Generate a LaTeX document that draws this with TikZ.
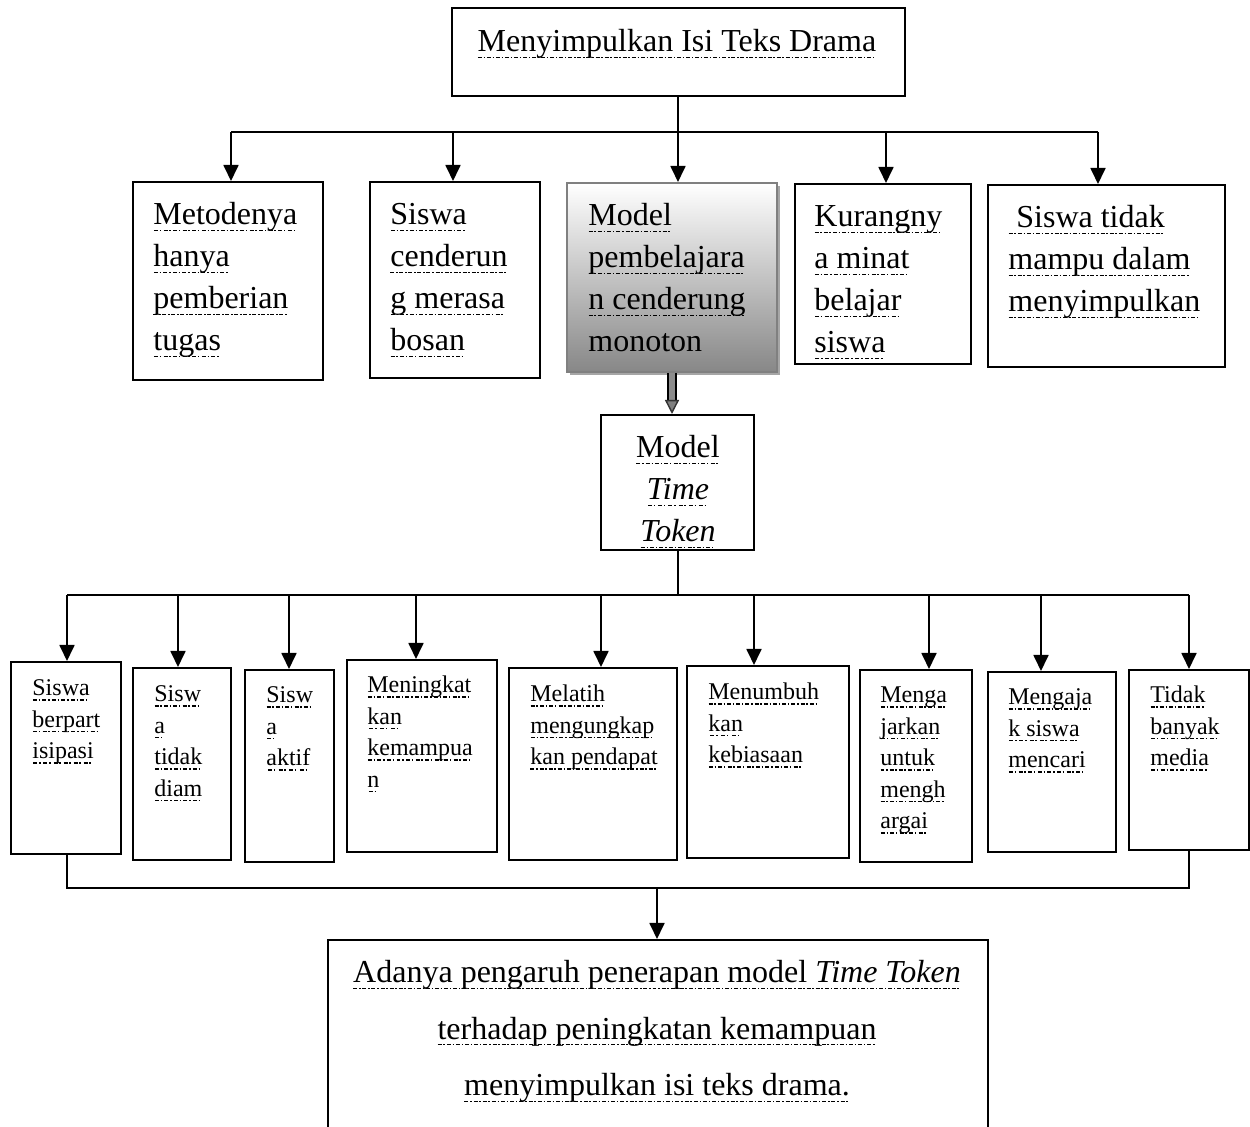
\documentclass[tikz,border=0pt]{standalone}
\usepackage{fontspec}
\setmainfont{Liberation Serif}
\usetikzlibrary{arrows.meta,fit,shadows}
\newsavebox\ulbox
\newlength\uldrop
\setlength\uldrop{3pt}
\newcommand\ul[1]{\sbox\ulbox{#1}\leavevmode\rlap{\raisebox{-\uldrop}{\hbox to \wd\ulbox{\xleaders\hbox{\vrule width 2pt height 0.6pt depth 0pt\hskip 0.9pt\vrule width 0.7pt height 0.6pt depth 0pt\hskip 0.9pt}\hfill}}}\usebox\ulbox}
\newcommand\stl[2]{\vtop{\baselineskip=#1\relax\lineskiplimit=-20pt\halign{##\hfil\cr#2\crcr}}}
\newcommand\stc[2]{\vtop{\baselineskip=#1\relax\lineskiplimit=-20pt\halign{\hfil##\hfil\cr#2\crcr}}}
\begin{document}
\begin{tikzpicture}[x=0.5pt,y=-0.5pt,
  box/.style={draw=black,line width=1pt,inner sep=0pt},
  con/.style={line width=0.9pt},
  arr/.style={line width=0.9pt,-{Triangle[width=7.5pt,length=8pt]}},
  bigtxt/.style={inner sep=0pt,anchor=base west,font=\fontsize{16}{21}\selectfont,execute at begin node={\setlength\uldrop{3pt}}},
  smalltxt/.style={inner sep=0pt,anchor=base west,font=\fontsize{12}{15.75}\selectfont,execute at begin node={\setlength\uldrop{2.3pt}}},
  shaded box/.style={draw=gray,line width=1pt,inner sep=0pt,top color=white,bottom color=black!47,
     drop shadow={shadow xshift=1.5pt,shadow yshift=-1.5pt,fill=black!35,opacity=1}}]
\useasboundingbox (0,0) rectangle (1250,1127);

% top box
\node[box,fit={(452,8) (905,96)}] (top) {};
\node[bigtxt,anchor=base] (toptxt) at (677,52) {\ul{Menyimpulkan Isi Teks Drama}};

% level 2 boxes
\node[box,fit={(133,182) (323,380)}] (b1) {};
\node[box,fit={(370,182) (540,378)}] (b2) {};
\node[shaded box,fit={(567,183) (777,372)}] (b3) {};
\node[box,fit={(795,184) (971,364)}] (b4) {};
\node[box,fit={(988,185) (1225,367)}] (b5) {};

\node[bigtxt] (b1t) at (153,225) {\stl{21pt}{\ul{Metodenya}\cr\ul{hanya}\cr\ul{pemberian}\cr\ul{tugas}}};
\node[bigtxt] (b2t) at (390,225) {\stl{21pt}{\ul{Siswa}\cr\ul{cenderun}\cr\ul{g merasa}\cr\ul{bosan}}};
\node[bigtxt] (b3t) at (588,226) {\stl{21pt}{\ul{Model}\cr\ul{pembelajara}\cr\ul{n cenderung}\cr monoton}};
\node[bigtxt] (b4t) at (814,227) {\stl{21pt}{\ul{Kurangny}\cr\ul{a minat}\cr\ul{belajar}\cr\ul{siswa}}};
\node[bigtxt] (b5t) at (1008,228) {\stl{21pt}{\ul{\ Siswa tidak}\cr\ul{mampu dalam}\cr\ul{menyimpulkan}}};

% time token box
\node[box,fit={(601,415) (754,550)}] (tt) {};
\node[bigtxt,anchor=base] (ttt) at (678,458) {\stc{21pt}{\ul{Model}\cr\ul{\textit{Time}}\cr\ul{\textit{Token}}}};

% level 3 boxes
\node[box,fit={(11,662) (121,854)}] (c1) {};
\node[box,fit={(133,668) (231,860)}] (c2) {};
\node[box,fit={(245,670) (334,862)}] (c3) {};
\node[box,fit={(347,660) (497,852)}] (c4) {};
\node[box,fit={(509,668) (677,860)}] (c5) {};
\node[box,fit={(687,666) (849,858)}] (c6) {};
\node[box,fit={(860,670) (972,862)}] (c7) {};
\node[box,fit={(988,672) (1116,852)}] (c8) {};
\node[box,fit={(1129,670) (1249,850)}] (c9) {};

\node[smalltxt] (c1t) at (32,696) {\stl{15.75pt}{\ul{Siswa}\cr\ul{berpart}\cr\ul{isipasi}}};
\node[smalltxt] (c2t) at (154,702) {\stl{15.75pt}{\ul{Sisw}\cr\ul{a}\cr\ul{tidak}\cr\ul{diam}}};
\node[smalltxt] (c3t) at (266,703) {\stl{15.75pt}{\ul{Sisw}\cr\ul{a}\cr\ul{aktif}}};
\node[smalltxt] (c4t) at (367,693) {\stl{15.75pt}{\ul{Meningkat}\cr\ul{kan}\cr\ul{kemampua}\cr\ul{n}}};
\node[smalltxt] (c5t) at (530,702) {\stl{15.75pt}{\ul{Melatih}\cr\ul{mengungkap}\cr\ul{kan pendapat}}};
\node[smalltxt] (c6t) at (708,700) {\stl{15.75pt}{\ul{Menumbuh}\cr\ul{kan}\cr\ul{kebiasaan}}};
\node[smalltxt] (c7t) at (880,703) {\stl{15.75pt}{\ul{Menga}\cr\ul{jarkan}\cr\ul{untuk}\cr\ul{mengh}\cr\ul{argai}}};
\node[smalltxt] (c8t) at (1008,705) {\stl{15.75pt}{\ul{Mengaja}\cr\ul{k siswa}\cr\ul{mencari}}};
\node[smalltxt] (c9t) at (1150,703) {\stl{15.75pt}{\ul{Tidak}\cr\ul{banyak}\cr\ul{media}}};

% bottom box (runs past the lower edge)
\begin{scope}
\clip (0,0) rectangle (1250,1127);
\node[box,fit={(328,940) (988,1160)}] (fin) {};
\end{scope}
\node[bigtxt,anchor=base] (fint) at (657,983) {\stc{28.25pt}{\ul{Adanya pengaruh penerapan model \textit{Time Token}}\cr\ul{terhadap peningkatan kemampuan}\cr\ul{menyimpulkan isi teks drama.}}};

% connectors top -> level 2
\coordinate (busA) at (678,132);
\coordinate (a1) at (231,132);
\coordinate (a2) at (453,132);
\coordinate (a3) at (678,132);
\coordinate (a4) at (886,132);
\coordinate (a5) at (1098,132);
\draw[con] (top.south -| busA) -- (busA);
\draw[con] (a1) -- (a5);
\draw[arr] (a1) -- (a1 |- b1.north);
\draw[arr] (a2) -- (a2 |- b2.north);
\draw[arr] (a3) -- (a3 |- b3.north);
\draw[arr] (a4) -- (a4 |- b4.north);
\draw[arr] (a5) -- (a5 |- b5.north);

% double arrow model -> time token
\coordinate (dx) at (672,403);
\draw[line width=1.1pt,draw=black,double=black!45,double distance=2.8pt] (b3.south -| dx) -- (dx);
\draw[line width=0.7pt,draw=black!80,-{Triangle[width=7pt,length=7pt,fill=black!50]}] ([yshift=1pt]dx) -- (tt.north -| dx);

% connectors time token -> level 3
\coordinate (busB) at (678,595);
\coordinate (k1) at (67,595);
\coordinate (k2) at (178,595);
\coordinate (k3) at (289,595);
\coordinate (k4) at (416,595);
\coordinate (k5) at (601,595);
\coordinate (k6) at (754,595);
\coordinate (k7) at (929,595);
\coordinate (k8) at (1041,595);
\coordinate (k9) at (1189,595);
\draw[con] (tt.south -| busB) -- (busB);
\draw[con] (k1) -- (k9);
\draw[arr] (k1) -- (k1 |- c1.north);
\draw[arr] (k2) -- (k2 |- c2.north);
\draw[arr] (k3) -- (k3 |- c3.north);
\draw[arr] (k4) -- (k4 |- c4.north);
\draw[arr] (k5) -- (k5 |- c5.north);
\draw[arr] (k6) -- (k6 |- c6.north);
\draw[arr] (k7) -- (k7 |- c7.north);
\draw[arr] (k8) -- (k8 |- c8.north);
\draw[arr] (k9) -- (k9 |- c9.north);

% collector -> final box
\coordinate (m1) at (67,888);
\coordinate (m9) at (1189,888);
\coordinate (mc) at (657,888);
\draw[con] (c1.south -| m1) -- (m1) -- (m9) -- (c9.south -| m9);
\draw[arr] (mc) -- (mc |- fin.north);
\end{tikzpicture}
\end{document}
